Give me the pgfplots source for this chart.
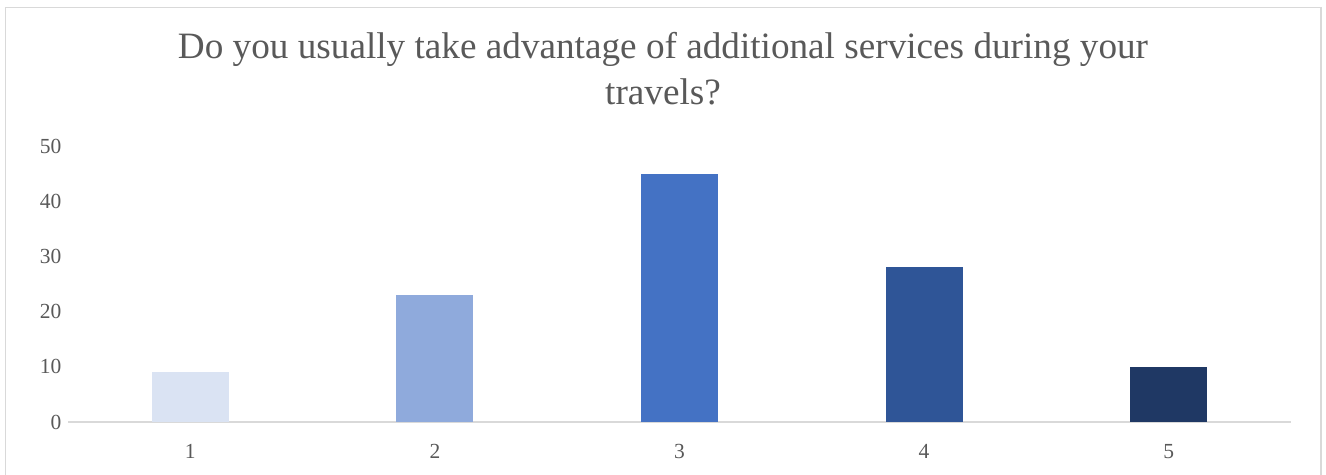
\documentclass[border=0pt]{standalone}
\usepackage{pgfplots}
\pgfplotsset{compat=1.18}
\usepackage{fontspec}
\setmainfont{Liberation Serif}
\definecolor{txt}{HTML}{595959}
\definecolor{axl}{HTML}{D9D9D9}
\definecolor{frm}{HTML}{D9D9D9}
\definecolor{c1}{HTML}{DAE3F3}
\definecolor{c2}{HTML}{8FAADC}
\definecolor{c3}{HTML}{4472C4}
\definecolor{c4}{HTML}{2F5597}
\definecolor{c5}{HTML}{1F3864}
\begin{document}
\begin{tikzpicture}[x=1bp,y=1bp]
\useasboundingbox (0,0) rectangle (1326,475);
\begin{scope}
\clip (0,0) rectangle (1326,475);
\draw[frm, line width=1.3bp] (5.5,-10) rectangle (1321,467.5);
\end{scope}
\node[text=txt, align=center, font=\fontsize{37.2bp}{46bp}\selectfont] at (663,406)
  {Do you usually take advantage of additional services during your\\travels?};
\begin{axis}[
  at={(68bp,53bp)}, anchor=origin,
  scale only axis, width=1223bp, height=276bp,
  xmin=0.5, xmax=5.5, ymin=0, ymax=50,
  ytick={0,10,20,30,40,50},
  xtick={1,2,3,4,5},
  xticklabels={1,2,3,4,5},
  major tick length=0pt,
  axis x line*=bottom, axis y line*=left,
  x axis line style={draw=axl, line width=1.3bp, -},
  y axis line style={draw=none},
  tick label style={text=txt, font=\fontsize{21.5bp}{24bp}\selectfont},
  /pgf/number format/assume math mode=true,
  yticklabel style={xshift=-3bp},
  xticklabel style={yshift=-19bp},
  ybar, bar width=77bp, bar shift=0pt,
  clip=false,
]
\addplot[draw=none, fill=c1] coordinates {(1,9)};
\addplot[draw=none, fill=c2] coordinates {(2,23)};
\addplot[draw=none, fill=c3] coordinates {(3,45)};
\addplot[draw=none, fill=c4] coordinates {(4,28)};
\addplot[draw=none, fill=c5] coordinates {(5,10)};
\end{axis}
\end{tikzpicture}
\end{document}
